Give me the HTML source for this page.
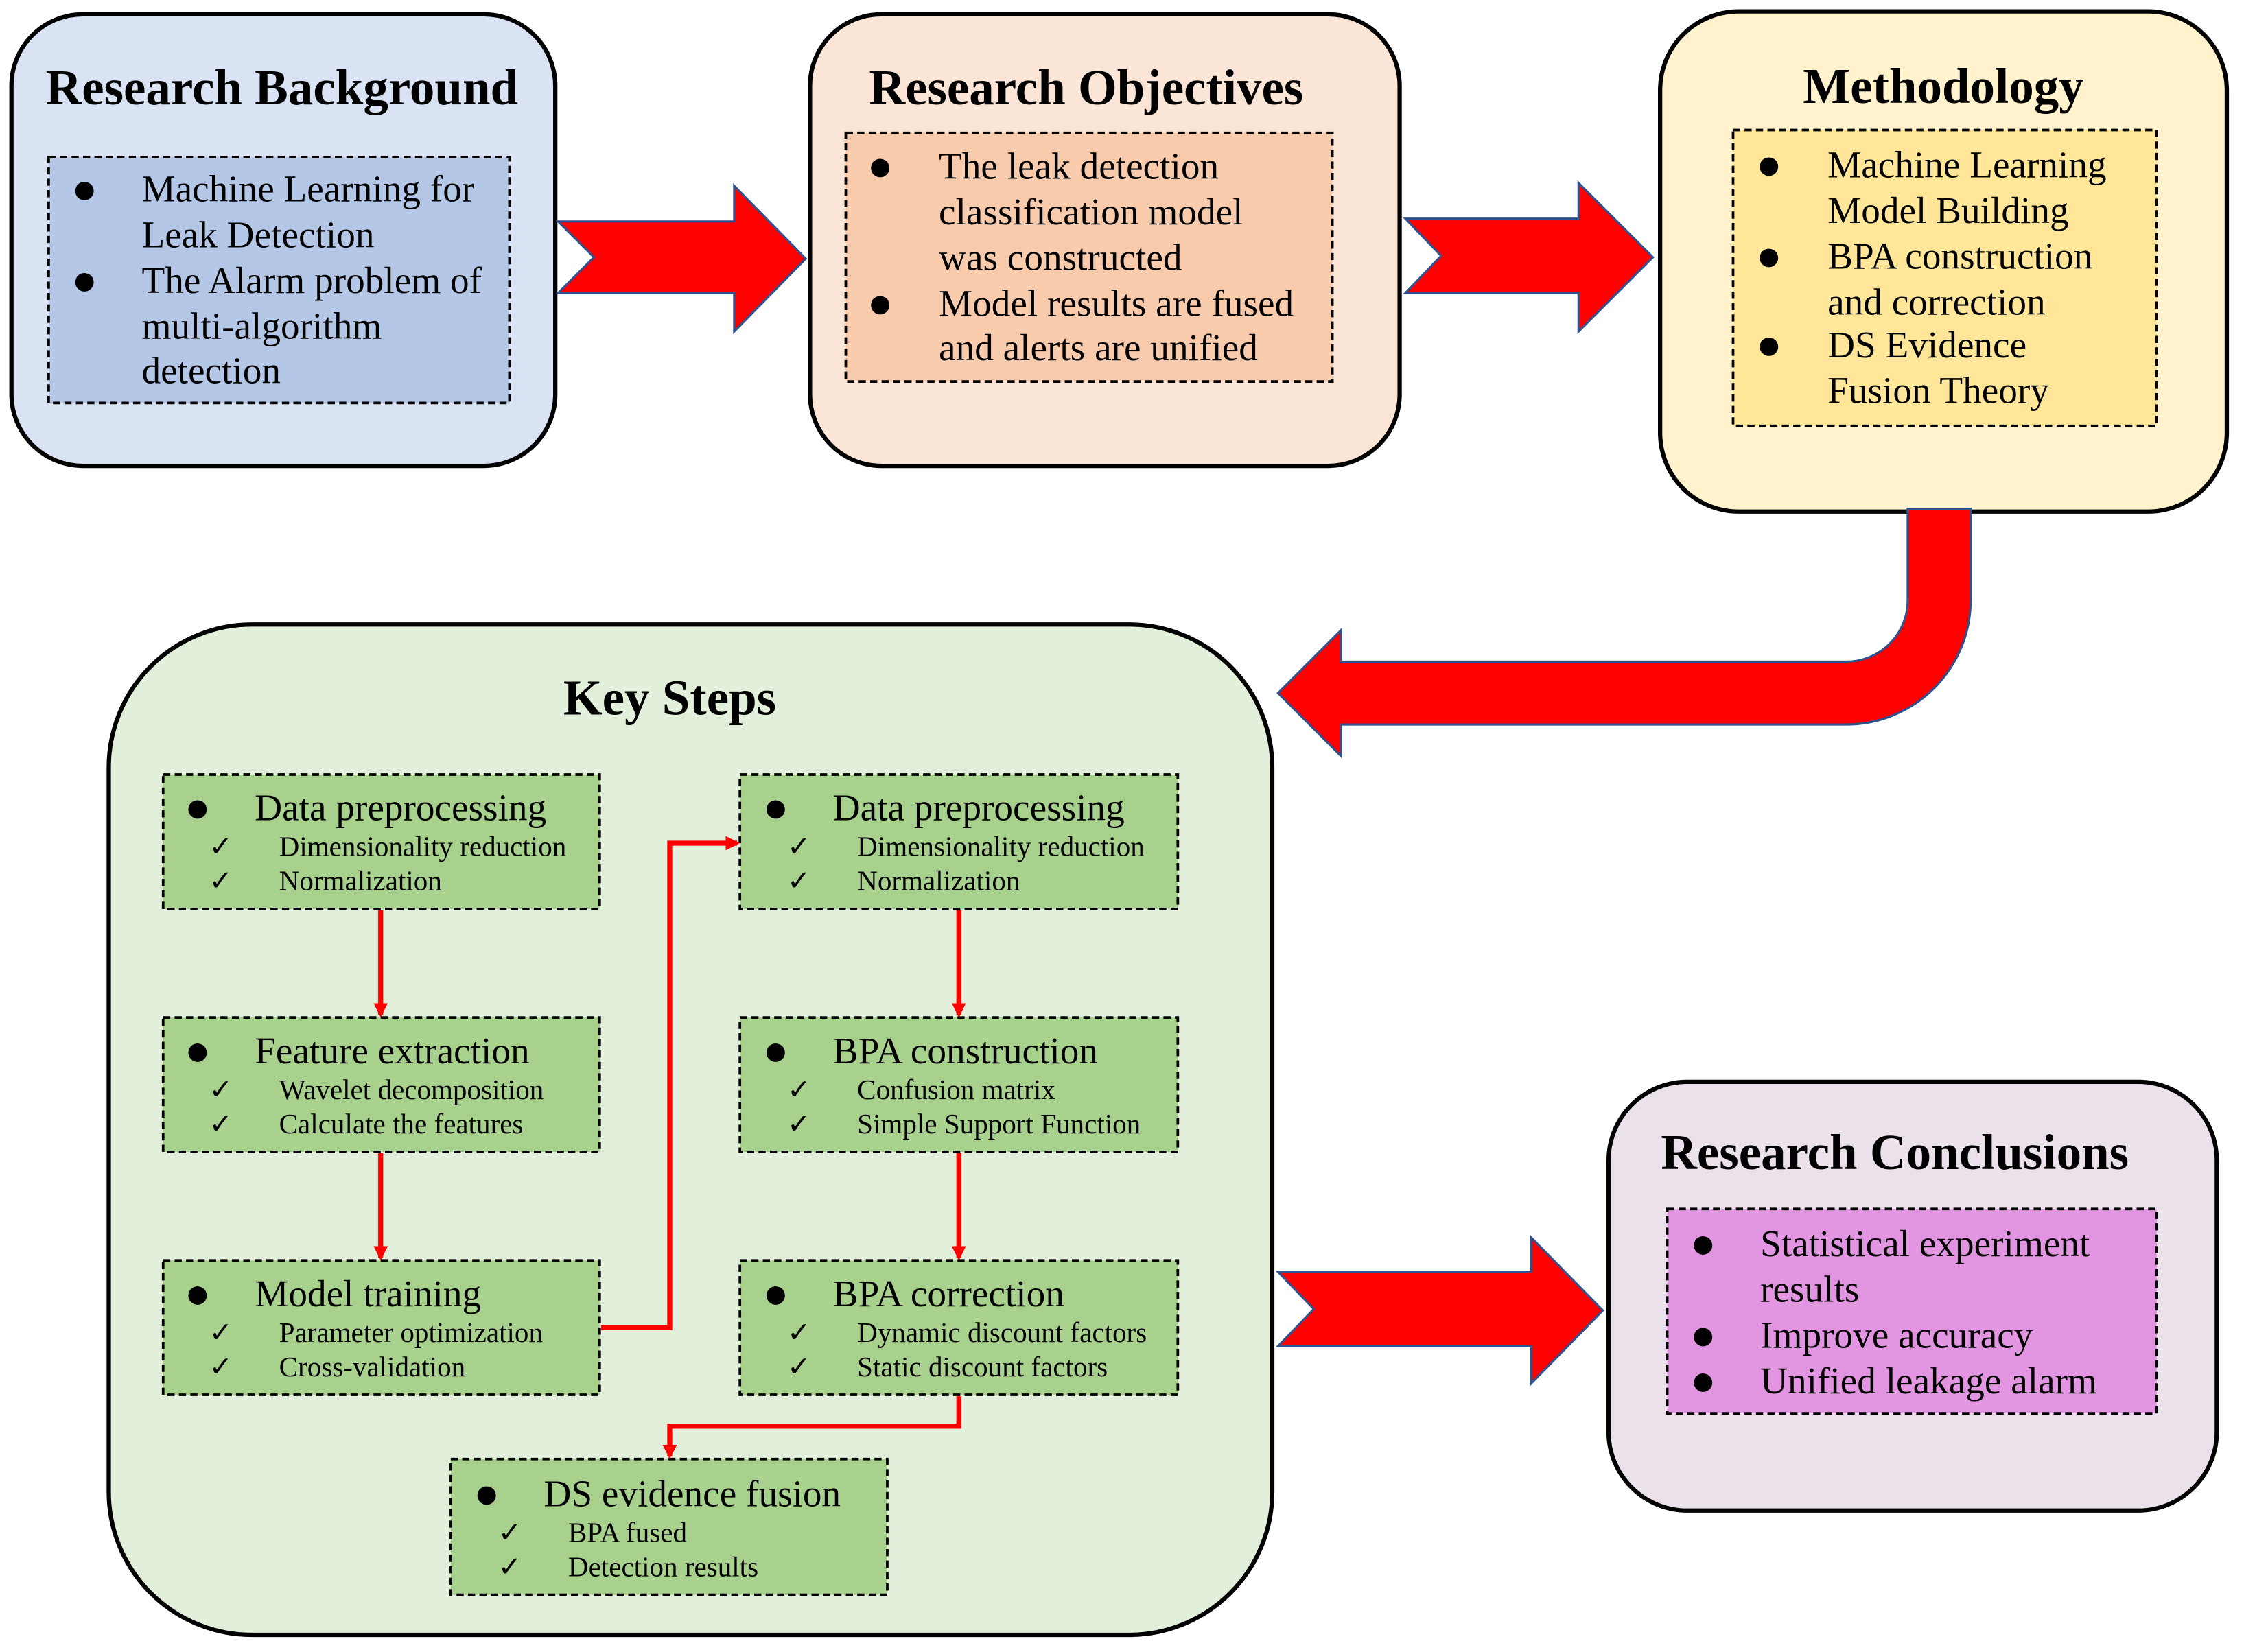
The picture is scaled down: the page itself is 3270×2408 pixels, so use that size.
<!DOCTYPE html>
<html><head><meta charset="utf-8"><style>
html,body{margin:0;padding:0;background:#fff;}
svg{display:block;}
text{font-family:"Liberation Serif",serif;fill:#000;}
.t{font-weight:bold;font-size:35px;text-anchor:middle;}
.b{font-size:26.5px;}
.s{font-size:19.7px;}
.d{font-size:30px;}
</style></head><body>
<svg width="3270" height="2408" viewBox="0 0 1568 1156" preserveAspectRatio="none" xmlns="http://www.w3.org/2000/svg">
<defs>
<marker id="ah" markerWidth="10" markerHeight="10" refX="8" refY="5" orient="auto" markerUnits="userSpaceOnUse">
<path d="M0,0 L10,5 L0,10 Z" fill="#ff0000"/></marker>
</defs>
<rect width="1568" height="1156" fill="#fff"/>
<rect x="8" y="10" width="380" height="316" rx="50" fill="#dae3f3" stroke="#000" stroke-width="3"/>
<rect x="34" y="110" width="322" height="172" fill="#b4c7e7" stroke="#000" stroke-width="1.8" stroke-dasharray="5,3"/>
<rect x="566" y="10" width="412" height="316" rx="50" fill="#fbe5d6" stroke="#000" stroke-width="3"/>
<rect x="591" y="93" width="340" height="174" fill="#f8cbad" stroke="#000" stroke-width="1.8" stroke-dasharray="5,3"/>
<rect x="1160" y="8" width="396" height="350" rx="55" fill="#fff2cc" stroke="#000" stroke-width="3"/>
<rect x="1211" y="91" width="296" height="207" fill="#ffe699" stroke="#000" stroke-width="1.8" stroke-dasharray="5,3"/>
<rect x="76" y="437" width="813" height="707" rx="100" fill="#e2efda" stroke="#000" stroke-width="3"/>
<rect x="1124" y="757" width="425" height="300" rx="55" fill="#ebe1ea" stroke="#000" stroke-width="3"/>
<rect x="1165" y="846" width="342" height="143" fill="#e295e0" stroke="#000" stroke-width="1.8" stroke-dasharray="5,3"/>
<g fill="#ff0000" stroke="#2f528f" stroke-width="1.5">
<path d="M390,155 L513,155 L513,130 L563,181 L513,232 L513,205 L390,205 L415,180 Z"/>
<path d="M982,153 L1103,153 L1103,128 L1155,180 L1103,232 L1103,205 L982,205 L1007,179 Z"/>
<path d="M893,890 L1070,890 L1070,866 L1120,917 L1070,968 L1070,942 L893,942 L918,916 Z"/>
<path d="M1333,356 L1377,356 L1377,420 A87 87 0 0 1 1290,507 L937,507 L937,529 L893,485 L937,441 L937,463 L1290,463 A43 43 0 0 0 1333,420 Z"/>
</g>
<text class="t" x="197" y="73">Research Background</text>
<text class="t" x="759" y="73">Research Objectives</text>
<text class="t" x="1358" y="72">Methodology</text>
<text class="t" x="468" y="500">Key Steps</text>
<text class="t" x="1324" y="818">Research Conclusions</text>
<g class="b">
<text class="d" x="50" y="142">●</text><text x="99" y="141">Machine Learning for</text><text x="99" y="173">Leak Detection</text>
<text class="d" x="50" y="206">●</text><text x="99" y="205">The Alarm problem of</text><text x="99" y="237">multi-algorithm</text><text x="99" y="268">detection</text>
<text class="d" x="606" y="126">●</text><text x="656" y="125">The leak detection</text><text x="656" y="157">classification model</text><text x="656" y="189">was constructed</text>
<text class="d" x="606" y="222">●</text><text x="656" y="221">Model results are fused</text><text x="656" y="252">and alerts are unified</text>
<text class="d" x="1227" y="125">●</text><text x="1277" y="124">Machine Learning</text><text x="1277" y="156">Model Building</text>
<text class="d" x="1227" y="189">●</text><text x="1277" y="188">BPA construction</text><text x="1277" y="220">and correction</text>
<text class="d" x="1227" y="251">●</text><text x="1277" y="250">DS Evidence</text><text x="1277" y="282">Fusion Theory</text>
<text class="d" x="1181" y="880">●</text><text x="1230" y="879">Statistical experiment</text><text x="1230" y="911">results</text>
<text class="d" x="1181" y="944">●</text><text x="1230" y="943">Improve accuracy</text>
<text class="d" x="1181" y="976">●</text><text x="1230" y="975">Unified leakage  alarm</text>
</g>
<g stroke="#000" stroke-width="1.8" stroke-dasharray="5,3" fill="#a9d18e">
<rect x="114" y="542" width="305" height="94"/>
<rect x="114" y="712" width="305" height="94"/>
<rect x="114" y="882" width="305" height="94"/>
<rect x="517" y="542" width="306" height="94"/>
<rect x="517" y="712" width="306" height="94"/>
<rect x="517" y="882" width="306" height="94"/>
<rect x="315" y="1021" width="305" height="95"/>
</g>
<g>
<text class="d" x="129" y="575">●</text><text class="b" x="178" y="574">Data preprocessing</text>
<text class="s" x="146" y="599">✓</text><text class="s" x="195" y="599">Dimensionality reduction</text>
<text class="s" x="146" y="623">✓</text><text class="s" x="195" y="623">Normalization</text>
<text class="d" x="129" y="745">●</text><text class="b" x="178" y="744">Feature extraction</text>
<text class="s" x="146" y="769">✓</text><text class="s" x="195" y="769">Wavelet decomposition</text>
<text class="s" x="146" y="793">✓</text><text class="s" x="195" y="793">Calculate the features</text>
<text class="d" x="129" y="915">●</text><text class="b" x="178" y="914">Model training</text>
<text class="s" x="146" y="939">✓</text><text class="s" x="195" y="939">Parameter optimization</text>
<text class="s" x="146" y="963">✓</text><text class="s" x="195" y="963">Cross-validation</text>
<text class="d" x="533" y="575">●</text><text class="b" x="582" y="574">Data preprocessing</text>
<text class="s" x="550" y="599">✓</text><text class="s" x="599" y="599">Dimensionality reduction</text>
<text class="s" x="550" y="623">✓</text><text class="s" x="599" y="623">Normalization</text>
<text class="d" x="533" y="745">●</text><text class="b" x="582" y="744">BPA construction</text>
<text class="s" x="550" y="769">✓</text><text class="s" x="599" y="769">Confusion matrix</text>
<text class="s" x="550" y="793">✓</text><text class="s" x="599" y="793">Simple Support Function</text>
<text class="d" x="533" y="915">●</text><text class="b" x="582" y="914">BPA correction</text>
<text class="s" x="550" y="939">✓</text><text class="s" x="599" y="939">Dynamic discount factors</text>
<text class="s" x="550" y="963">✓</text><text class="s" x="599" y="963">Static discount factors</text>
<text class="d" x="331" y="1055">●</text><text class="b" x="380" y="1054">DS evidence fusion</text>
<text class="s" x="348" y="1079">✓</text><text class="s" x="397" y="1079">BPA fused</text>
<text class="s" x="348" y="1103">✓</text><text class="s" x="397" y="1103">Detection results</text>
</g>
<g stroke="#ff0000" stroke-width="3.5" fill="none" marker-end="url(#ah)">
<path d="M266,637 L266,710"/>
<path d="M266,807 L266,880"/>
<path d="M670,637 L670,710"/>
<path d="M670,807 L670,880"/>
<path d="M420,929 L468,929 L468,590 L515,590"/>
<path d="M670,977 L670,998 L468,998 L468,1019"/>
</g>
</svg>
</body></html>
